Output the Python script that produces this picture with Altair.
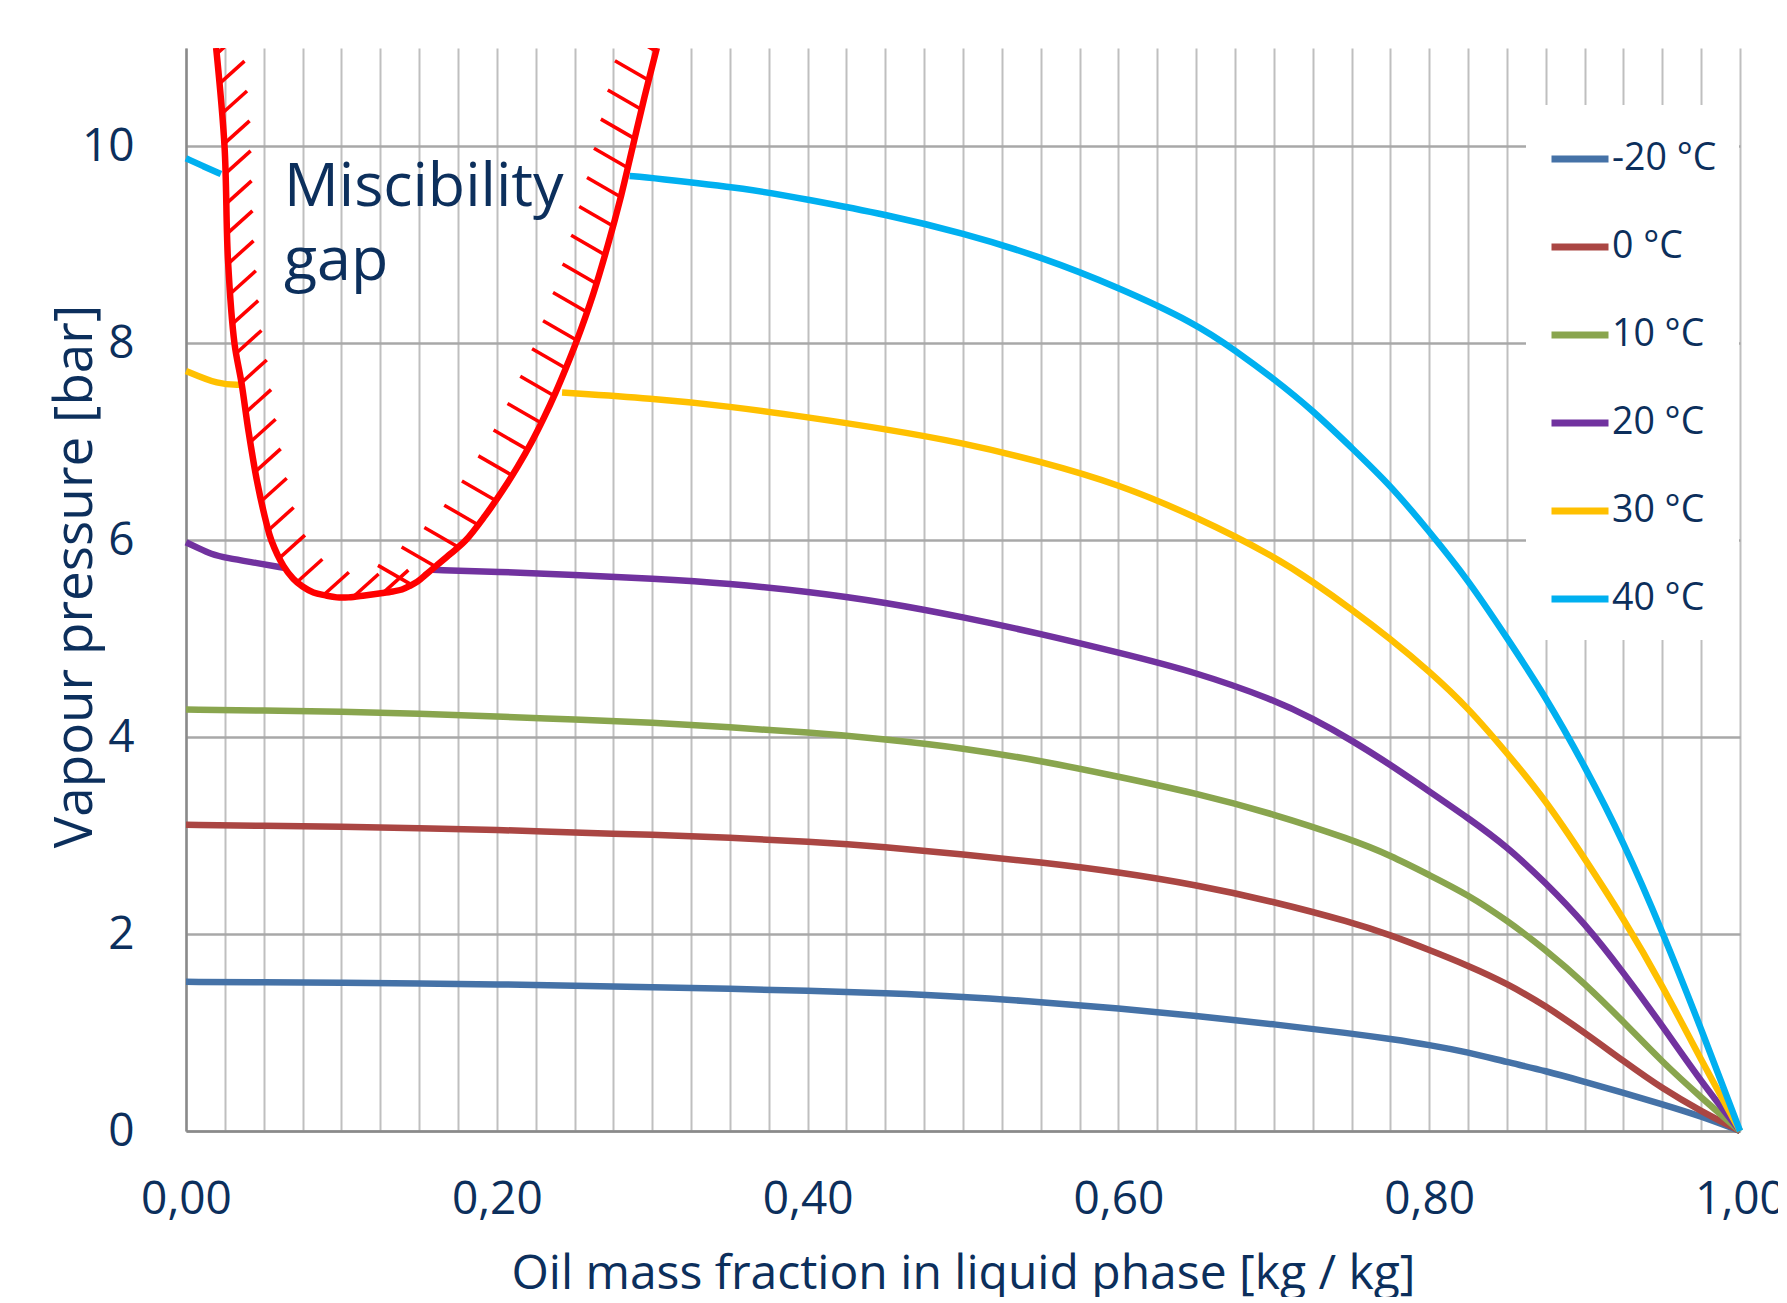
import altair as alt
import numpy as np
import pandas as pd

NAVY = "#0c2f5c"
RED = "#ff0000"

# ---------------- data ----------------
TEMPS = ["-20 °C", "0 °C", "10 °C", "20 °C", "30 °C", "40 °C"]
COLORS = ["#4572a7", "#aa4643", "#89a54e", "#71329f", "#ffc000", "#00b0f0"]

X_STD = [0, 0.05, 0.1, 0.15, 0.2, 0.25, 0.3, 0.35, 0.4, 0.45, 0.5, 0.55, 0.6, 0.65,
         0.7, 0.75, 0.775, 0.8, 0.825, 0.85, 0.875, 0.9, 0.925, 0.95, 0.975, 1.0]

Y_M20 = [1.515, 1.51, 1.505, 1.50, 1.49, 1.475, 1.46, 1.445, 1.425, 1.40, 1.365, 1.31,
         1.245, 1.17, 1.085, 0.99, 0.935, 0.875, 0.80, 0.70, 0.61, 0.50, 0.39, 0.27, 0.15, 0.0]
Y_0 = [3.11, 3.10, 3.09, 3.075, 3.06, 3.03, 3.01, 2.98, 2.94, 2.885, 2.81, 2.73, 2.63,
       2.50, 2.33, 2.12, 1.99, 1.84, 1.68, 1.50, 1.27, 1.00, 0.71, 0.43, 0.20, 0.0]
Y_10 = [4.28, 4.27, 4.26, 4.24, 4.21, 4.18, 4.15, 4.10, 4.05, 3.98, 3.89, 3.76, 3.60,
        3.43, 3.22, 2.96, 2.80, 2.60, 2.40, 2.14, 1.84, 1.50, 1.11, 0.70, 0.34, 0.0]

# 20 °C, broken by the miscibility gap
X_20A = [0, 0.008, 0.016, 0.026, 0.045, 0.063]
Y_20A = [5.98, 5.92, 5.86, 5.82, 5.77, 5.72]
X_20B = [0.1587, 0.2, 0.25, 0.3, 0.35, 0.4, 0.45, 0.5, 0.55, 0.6, 0.65, 0.7, 0.725, 0.75,
         0.775, 0.8, 0.825, 0.85, 0.875, 0.9, 0.925, 0.95, 0.975, 1.0]
Y_20B = [5.70, 5.68, 5.65, 5.61, 5.56, 5.48, 5.37, 5.22, 5.05, 4.86, 4.66, 4.38, 4.19, 3.97,
         3.72, 3.45, 3.18, 2.89, 2.52, 2.11, 1.61, 1.07, 0.50, 0.0]

# 30 °C
X_30A = [0, 0.021, 0.035]
Y_30A = [7.72, 7.58, 7.58]
X_30B = [0.242, 0.3, 0.35, 0.4, 0.45, 0.5, 0.55, 0.6, 0.65, 0.7, 0.725, 0.75, 0.775, 0.8,
         0.825, 0.85, 0.875, 0.9, 0.925, 0.95, 0.975, 1.0]
Y_30B = [7.50, 7.44, 7.36, 7.25, 7.13, 6.99, 6.80, 6.57, 6.24, 5.84, 5.58, 5.30, 5.00, 4.67,
         4.30, 3.84, 3.36, 2.77, 2.16, 1.48, 0.72, 0.0]

# 40 °C
X_40A = [0, 0.011, 0.0225]
Y_40A = [9.88, 9.80, 9.72]
X_40B = [0.2855, 0.3, 0.3625, 0.4, 0.45, 0.5, 0.55, 0.6, 0.65, 0.675, 0.7, 0.725, 0.75,
         0.775, 0.8, 0.825, 0.85, 0.875, 0.9, 0.925, 0.95, 0.975, 1.0]
Y_40B = [9.70, 9.68, 9.57, 9.46, 9.31, 9.12, 8.88, 8.57, 8.20, 7.93, 7.64, 7.32, 6.94,
         6.56, 6.09, 5.60, 5.01, 4.41, 3.71, 2.94, 2.03, 1.04, 0.0]

# miscibility gap boundary (red), in drawing order
RED_X = [0.0194, 0.0248, 0.0270, 0.0312, 0.0357, 0.0403, 0.0457, 0.0518, 0.0549, 0.0627,
         0.0690, 0.0750, 0.0820, 0.0898, 0.0970, 0.1046, 0.1150, 0.1243, 0.1330, 0.1390,
         0.1445, 0.1489, 0.1550, 0.1610, 0.1700, 0.1800, 0.1925, 0.2035, 0.2135, 0.2225,
         0.2305, 0.2378, 0.2445, 0.2508, 0.2620, 0.2715, 0.2800, 0.2875, 0.2950, 0.3030]
RED_Y = [11.0, 10.0, 8.85, 8.0, 7.6, 7.1, 6.6, 6.17, 6.0, 5.74,
         5.61, 5.53, 5.47, 5.44, 5.42, 5.42, 5.44, 5.46, 5.48, 5.50,
         5.54, 5.58, 5.66, 5.74, 5.86, 6.0, 6.25, 6.5, 6.75, 7.0,
         7.25, 7.5, 7.75, 8.0, 8.5, 9.0, 9.5, 10.0, 10.5, 11.0]

ANNOT_TEXT = "Miscibility\ngap"
ANNOT_X = 0.063
ANNOT_Y = 9.40

X_TITLE = "Oil mass fraction in liquid phase [kg / kg]"
Y_TITLE = "Vapour pressure [bar]"

# ---------------- layout ----------------
W, H = 1554, 1083
XMAX, YMAX = 1.0, 11.0

# ---------------- tables ----------------
rows = []
def add(temp, seg, xs, ys):
    for i, (a, b) in enumerate(zip(xs, ys)):
        rows.append({"temp": temp, "seg": seg, "i": i, "x": a, "y": b})

add(TEMPS[0], "m20", X_STD, Y_M20)
add(TEMPS[1], "0", X_STD, Y_0)
add(TEMPS[2], "10", X_STD, Y_10)
add(TEMPS[3], "20a", X_20A, Y_20A)
add(TEMPS[3], "20b", X_20B, Y_20B)
add(TEMPS[4], "30a", X_30A, Y_30A)
add(TEMPS[4], "30b", X_30B, Y_30B)
add(TEMPS[5], "40a", X_40A, Y_40A)
add(TEMPS[5], "40b", X_40B, Y_40B)
df_lines = pd.DataFrame(rows)

df_red = pd.DataFrame({"x": RED_X, "y": RED_Y, "i": range(len(RED_X))})

# hatch ticks derived from the red boundary (placed along its length in screen units)
px = np.array(RED_X) / XMAX * W
py = (YMAX - np.array(RED_Y)) / YMAX * H
s = np.concatenate([[0.0], np.cumsum(np.hypot(np.diff(px), np.diff(py)))])
sv = np.arange(6.0, s[-1], 30.0)
hx = np.interp(sv, s, px)
hy = np.interp(sv, s, py)
hxd = hx / W * XMAX
hyd = YMAX - hy / H * YMAX
left = hxd < 0.14
ang = np.where(left, np.deg2rad(42.0), np.deg2rad(30.0))
L = np.where(left, 34.0, 39.0)
dxp = np.where(left, 1.0, -1.0) * L * np.cos(ang)
dyp = L * np.sin(ang)
df_hatch = pd.DataFrame({
    "x": hxd, "y": hyd,
    "x2": hxd + dxp / W * XMAX,
    "y2": hyd + dyp / H * YMAX,
})

df_ann = pd.DataFrame({"x": [ANNOT_X], "y": [ANNOT_Y], "t": [ANNOT_TEXT]})

# ---------------- axes / scales ----------------
XGRID = [round(k * 0.025, 3) for k in range(41)]
YGRID = [0, 2, 4, 6, 8, 10]

x_axis = alt.Axis(
    values=XGRID, grid=True, gridColor="#bfbfbf", gridWidth=2,
    domain=True, domainColor="#8a8a8a", domainWidth=2.5,
    ticks=False, tickSize=0,
    labelExpr="(abs(datum.value*5 - round(datum.value*5)) < 0.001) ? replace(format(datum.value, '.2f'), '.', ',') : ''",
    labelFont="Open Sans", labelFontSize=46, labelColor=NAVY, labelPadding=46,
    labelFlush=False, labelOverlap=False,
    title=X_TITLE, titleFont="Open Sans", titleFontSize=48, titleColor=NAVY,
    titleFontWeight="normal", titleX=W / 2, titleY=157, titleBaseline="alphabetic",
    titleAlign="center",
)
y_axis = alt.Axis(
    values=YGRID, grid=True, gridColor="#a8a8a8", gridWidth=2.5,
    domain=True, domainColor="#8a8a8a", domainWidth=2.5,
    ticks=False, tickSize=0,
    labelFont="Open Sans", labelFontSize=46, labelColor=NAVY, labelPadding=52,
    labelOverlap=False,
    title=Y_TITLE, titleFont="Open Sans", titleFontSize=53, titleColor=NAVY,
    titleFontWeight="normal", titleX=-95, titleY=528, titleAngle=270,
    titleBaseline="alphabetic", titleAlign="center",
)
xs = alt.Scale(domain=[0, XMAX], nice=False, zero=False)
ys = alt.Scale(domain=[0, YMAX], nice=False, zero=False)

X = alt.X("x:Q", scale=xs, axis=x_axis, title=X_TITLE)
Y = alt.Y("y:Q", scale=ys, axis=y_axis, title=Y_TITLE)

lines = alt.Chart(df_lines).mark_line(strokeWidth=6.5, interpolate="basis").encode(
    x=X, y=Y,
    color=alt.Color(
        "temp:N", sort=TEMPS,
        scale=alt.Scale(domain=TEMPS, range=COLORS),
        legend=alt.Legend(
            title=None, orient="none", legendX=1340, legendY=57,
            fillColor="white", padding=22, direction="vertical",
            symbolType="stroke", symbolSize=3249, symbolStrokeWidth=7,
            labelFont="Open Sans", labelFontSize=37.5, labelColor=NAVY,
            labelOffset=0, rowPadding=37,
        ),
    ),
    detail="seg:N",
    order="i:Q",
)

red = alt.Chart(df_red).mark_line(color=RED, strokeWidth=6.5, interpolate="catmull-rom", clip=True).encode(
    x=X, y=Y, order="i:Q"
)

hatch = alt.Chart(df_hatch).mark_rule(color=RED, strokeWidth=3.5, clip=True).encode(
    x=X, y=Y, x2="x2:Q", y2="y2:Q"
)

ann = alt.Chart(df_ann).mark_text(
    align="left", baseline="alphabetic", font="Open Sans", fontSize=61,
    color=NAVY, lineBreak="\n", lineHeight=74.6,
).encode(x=X, y=Y, text="t:N")

chart = alt.layer(lines, red, hatch, ann).properties(
    width=W, height=H,
    autosize=alt.AutoSizeParams(type="none"),
    padding={"left": 178, "top": 40, "right": 38, "bottom": 166},
    background="white",
).configure_view(stroke="transparent")

chart.save("out.html", embed_options={"renderer": "svg", "actions": False})
